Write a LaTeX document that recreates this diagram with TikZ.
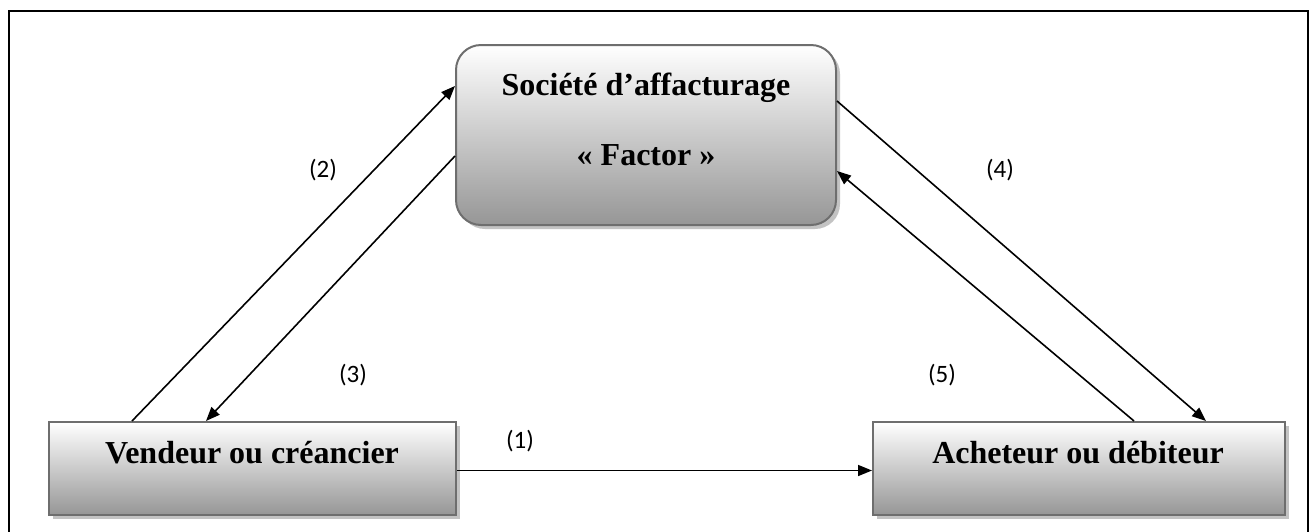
\documentclass[tikz,border=0pt]{standalone}
\usepackage{fontspec}
\setmainfont{Liberation Serif}
\newfontfamily\labfont{Carlito}
\usetikzlibrary{shadows,arrows.meta}
\definecolor{boxedge}{RGB}{110,110,110}
\definecolor{boxbottom}{RGB}{150,150,150}
\definecolor{shadowgray}{RGB}{195,195,195}
\tikzset{
  gbox/.style={draw=boxedge, line width=2pt, top color=white, bottom color=boxbottom,
    drop shadow={shadow xshift=4pt, shadow yshift=-4pt, fill=shadowgray, opacity=1}},
  btext/.style={font=\fontsize{32}{36}\selectfont\bfseries, anchor=base, inner sep=0pt},
  ltext/.style={font=\labfont\fontsize{25}{29}\selectfont, anchor=base, inner sep=0pt},
  conn/.style={line width=1.6pt, -{Triangle[length=14pt,width=11pt]}}
}
\begin{document}
\begin{tikzpicture}[x=1pt,y=-1pt]
\useasboundingbox (0,0) rectangle (1315,531);
\draw[line width=2.4pt] (9,560) -- (9,11) -- (1308,11) -- (1308,560);
\node[gbox, rounded corners=25pt, minimum width=380pt, minimum height=180pt] (F) at (646,135) {};
\node[gbox, minimum width=407pt, minimum height=93pt] (V) at (252.5,468.5) {};
\node[gbox, minimum width=412pt, minimum height=93pt] (A) at (1079,468.5) {};
\node[btext] (ft) at (646,95) {Société d’affacturage};
\node[btext] (fs) at (646,165) {« Factor »};
\node[btext] (vt) at (252,463) {Vendeur ou créancier};
\node[btext] (at) at (1078,463) {Acheteur ou débiteur};
\draw[conn] ([yshift=-2pt]V.east) -- ([yshift=-2pt]A.west);
\draw[conn] ([xshift=84pt]V.north west) -- ([yshift=-42pt]F.north west);
\draw[conn] ([yshift=-112pt]F.north west) -- ([xshift=158pt]V.north west);
\draw[conn] ([yshift=-57pt]F.north east) -- ([xshift=-80pt]A.north east);
\draw[conn] ([xshift=-152pt]A.north east) -- ([yshift=-127pt]F.north east);
\node[ltext] (l1) at (520,448) {(1)};
\node[ltext] (l2) at (323,177) {(2)};
\node[ltext] (l3) at (353,382) {(3)};
\node[ltext] (l4) at (1000,177) {(4)};
\node[ltext] (l5) at (942,382) {(5)};
\end{tikzpicture}
\end{document}
